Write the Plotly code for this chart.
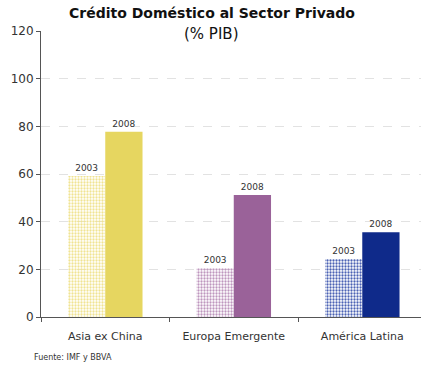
import plotly.graph_objects as go

# Domestic credit to the private sector, % of GDP
regions = ["Asia ex China", "Europa Emergente", "América Latina"]
years = ["2003", "2008"]
credit_2003 = [59.2, 20.5, 24.3]
credit_2008 = [77.7, 51.2, 35.6]

solid_colors = ["#E6D660", "#9A6299", "#0F2A8A"]
# 2003 bars: light checker dots over a tinted ground
dot_colors = ["#FFFBE6", "#F4EAF4", "#D6DCF4"]
ground_colors = ["#F0E392", "#BE96BE", "#4B62B4"]

font_family = "DejaVu Sans"
text_color = "#333333"

fig = go.Figure()

fig.add_trace(go.Bar(
    x=regions,
    y=credit_2003,
    name=years[0],
    text=[years[0]] * len(regions),
    texttemplate="%{text}",
    textposition="outside",
    textfont=dict(size=9, color=text_color, family=font_family),
    cliponaxis=False,
    marker=dict(
        color=ground_colors,
        line=dict(width=0),
        pattern=dict(shape=".", fgcolor=dot_colors, bgcolor=ground_colors,
                     size=3, solidity=0.45, fillmode="replace"),
    ),
))

fig.add_trace(go.Bar(
    x=regions,
    y=credit_2008,
    name=years[1],
    text=[years[1]] * len(regions),
    texttemplate="%{text}",
    textposition="outside",
    textfont=dict(size=9, color=text_color, family=font_family),
    cliponaxis=False,
    marker=dict(color=solid_colors, line=dict(width=0)),
))

fig.update_layout(
    width=422,
    height=367,
    margin=dict(l=41, r=1, t=31, b=50),
    paper_bgcolor="white",
    plot_bgcolor="white",
    barmode="group",
    bargap=0.42,
    bargroupgap=0,
    showlegend=False,
    font=dict(family=font_family, color=text_color, size=11),
    title=dict(
        text="<b>Crédito Doméstico al Sector Privado</b>",
        x=212 / 422, xref="container", xanchor="center",
        y=1 - 13 / 367, yref="container", yanchor="middle",
        font=dict(size=14, color="#111111", family=font_family),
    ),
    annotations=[
        dict(text="(% PIB)", xref="paper", yref="paper", x=(211 - 41) / 380, y=1 - 3 / 286,
             xanchor="center", yanchor="middle", showarrow=False,
             font=dict(size=15, color="#111111", family=font_family)),
        dict(text="Fuente: IMF y BBVA", xref="paper", yref="paper",
             x=-9 / 380, y=-40 / 286, xanchor="left", yanchor="middle", showarrow=False,
             font=dict(size=8, color=text_color, family=font_family)),
    ],
    xaxis=dict(
        type="category",
        range=[-0.5, 2.457],
        showline=True, linecolor="#555555", linewidth=1,
        ticks="outside", tickson="boundaries", ticklen=4, tickcolor="#555555",
        ticklabelstandoff=9,
        showgrid=False,
        tickfont=dict(size=11, color=text_color),
    ),
    yaxis=dict(
        range=[0, 120],
        tickvals=[0, 20, 40, 60, 80, 100, 120],
        showline=True, linecolor="#555555", linewidth=1,
        ticks="outside", ticklen=4, tickcolor="#555555",
        showgrid=True, gridcolor="#E2E2E2", gridwidth=1, griddash="dash",
        zeroline=False,
        tickfont=dict(size=12, color=text_color),
    ),
)

fig.write_html("out.html")
